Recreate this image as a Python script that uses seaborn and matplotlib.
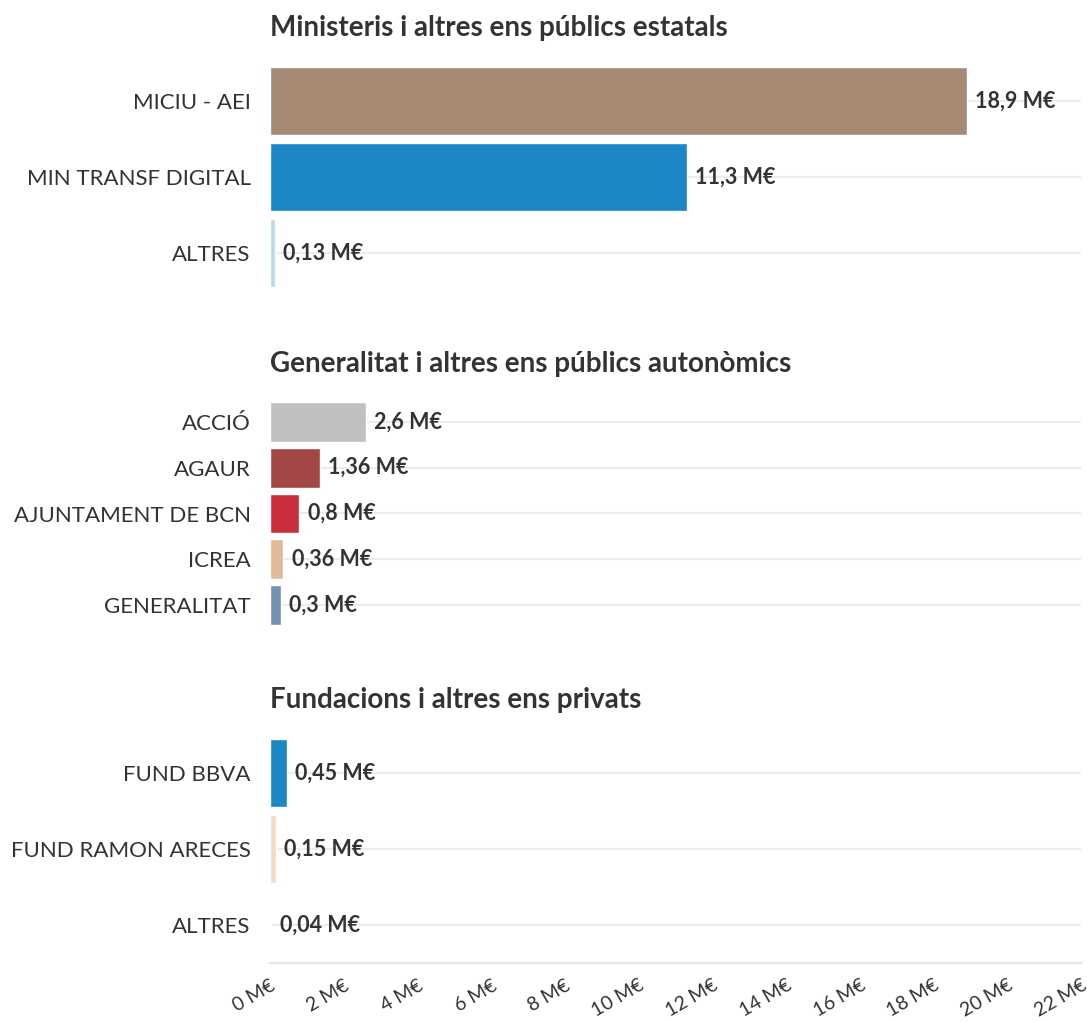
import matplotlib
matplotlib.use("Agg")
import matplotlib.pyplot as plt
import seaborn as sns
import pandas as pd

# ---- data ----
titles = ["Ministeris i altres ens públics estatals",
          "Generalitat i altres ens públics autonòmics",
          "Fundacions i altres ens privats"]

cats_estat = ["MICIU - AEI", "MIN TRANSF DIGITAL", "ALTRES"]
vals_estat = [18.9, 11.3, 0.13]
lbls_estat = ["18,9 M€", "11,3 M€", "0,13 M€"]
cols_estat = ["#a68a74", "#1b87c5", "#b9d9ef"]

cats_gen = ["ACCIÓ", "AGAUR", "AJUNTAMENT DE BCN", "ICREA", "GENERALITAT"]
vals_gen = [2.6, 1.36, 0.8, 0.36, 0.3]
lbls_gen = ["2,6 M€", "1,36 M€", "0,8 M€", "0,36 M€", "0,3 M€"]
cols_gen = ["#c0c0c0", "#a34646", "#c92e3a", "#e2b996", "#7291b3"]

cats_fund = ["FUND BBVA", "FUND RAMON ARECES", "ALTRES"]
vals_fund = [0.45, 0.15, 0.04]
lbls_fund = ["0,45 M€", "0,15 M€", "0,04 M€"]
cols_fund = ["#1b87c5", "#f6dac2", "#c8def2"]

xticks = [0, 2, 4, 6, 8, 10, 12, 14, 16, 18, 20, 22]
xticklabels = [f"{t} M€" for t in xticks]

# ---- style ----
sns.set_theme(style="white")
plt.rcParams["font.family"] = ["Lato", "DejaVu Sans"]

W, H = 1090, 1022
fig = plt.figure(figsize=(W / 100, H / 100), dpi=100)

left, right = 270, 1081
# (top_px, bottom_px) for each panel
boxes = [(63, 291), (399, 628), (735, 963)]
panels = [(cats_estat, vals_estat, lbls_estat, cols_estat, 0.89),
          (cats_gen, vals_gen, lbls_gen, cols_gen, 0.87),
          (cats_fund, vals_fund, lbls_fund, cols_fund, 0.89)]

textc = "#333333"
gridc = "#ececec"

for i, ((top, bot), (cats, vals, lbls, cols, bw)) in enumerate(zip(boxes, panels)):
    ax = fig.add_axes([left / W, 1 - bot / H, (right - left) / W, (bot - top) / H])
    df = pd.DataFrame({"cat": cats, "val": vals})
    # gridlines at row centers
    for k in range(len(cats)):
        ax.axhline(k, color=gridc, lw=1.5, zorder=0, xmin=0, xmax=1)
    sns.barplot(data=df, x="val", y="cat", hue="cat", palette=dict(zip(cats, cols)),
                order=cats, hue_order=cats, width=bw, legend=False, ax=ax,
                orient="h", zorder=2, saturation=1)
    ax.set_xlim(0, 22)
    ax.set_ylim(len(cats) - 0.5, -0.5)
    ax.set_xlabel("")
    ax.set_ylabel("")
    for s in ["top", "right", "left", "bottom"]:
        ax.spines[s].set_visible(False)
    ax.tick_params(axis="y", length=8, color=gridc, width=1.5, pad=6,
                   labelsize=16, labelcolor=textc)
    for bar_patch, lbl, v in zip(ax.patches, lbls, vals):
        ax.annotate(lbl, xy=(v, bar_patch.get_y() + bar_patch.get_height() / 2),
                    xytext=(6, 0), textcoords="offset points", va="center", ha="left",
                    fontsize=15.5, fontweight="bold", color=textc)
    ax.text(0, 1 + 35 / (bot - top), titles[i], transform=ax.transAxes,
            fontsize=20, fontweight="bold", color=textc, ha="left", va="center")
    ax.grid(False)
    if i < 2:
        ax.set_xticks([])
    else:
        ax.spines["bottom"].set_visible(True)
        ax.spines["bottom"].set_color("#e3e3e3")
        ax.spines["bottom"].set_linewidth(1.5)
        ax.set_xticks(xticks)
        ax.set_xticklabels(xticklabels, rotation=30, ha="right", rotation_mode="anchor")
        ax.tick_params(axis="x", length=7, color="#e8e8e8", width=1, pad=3,
                       labelsize=14, labelcolor=textc)

fig.savefig("out.png", dpi=100, facecolor="white")
